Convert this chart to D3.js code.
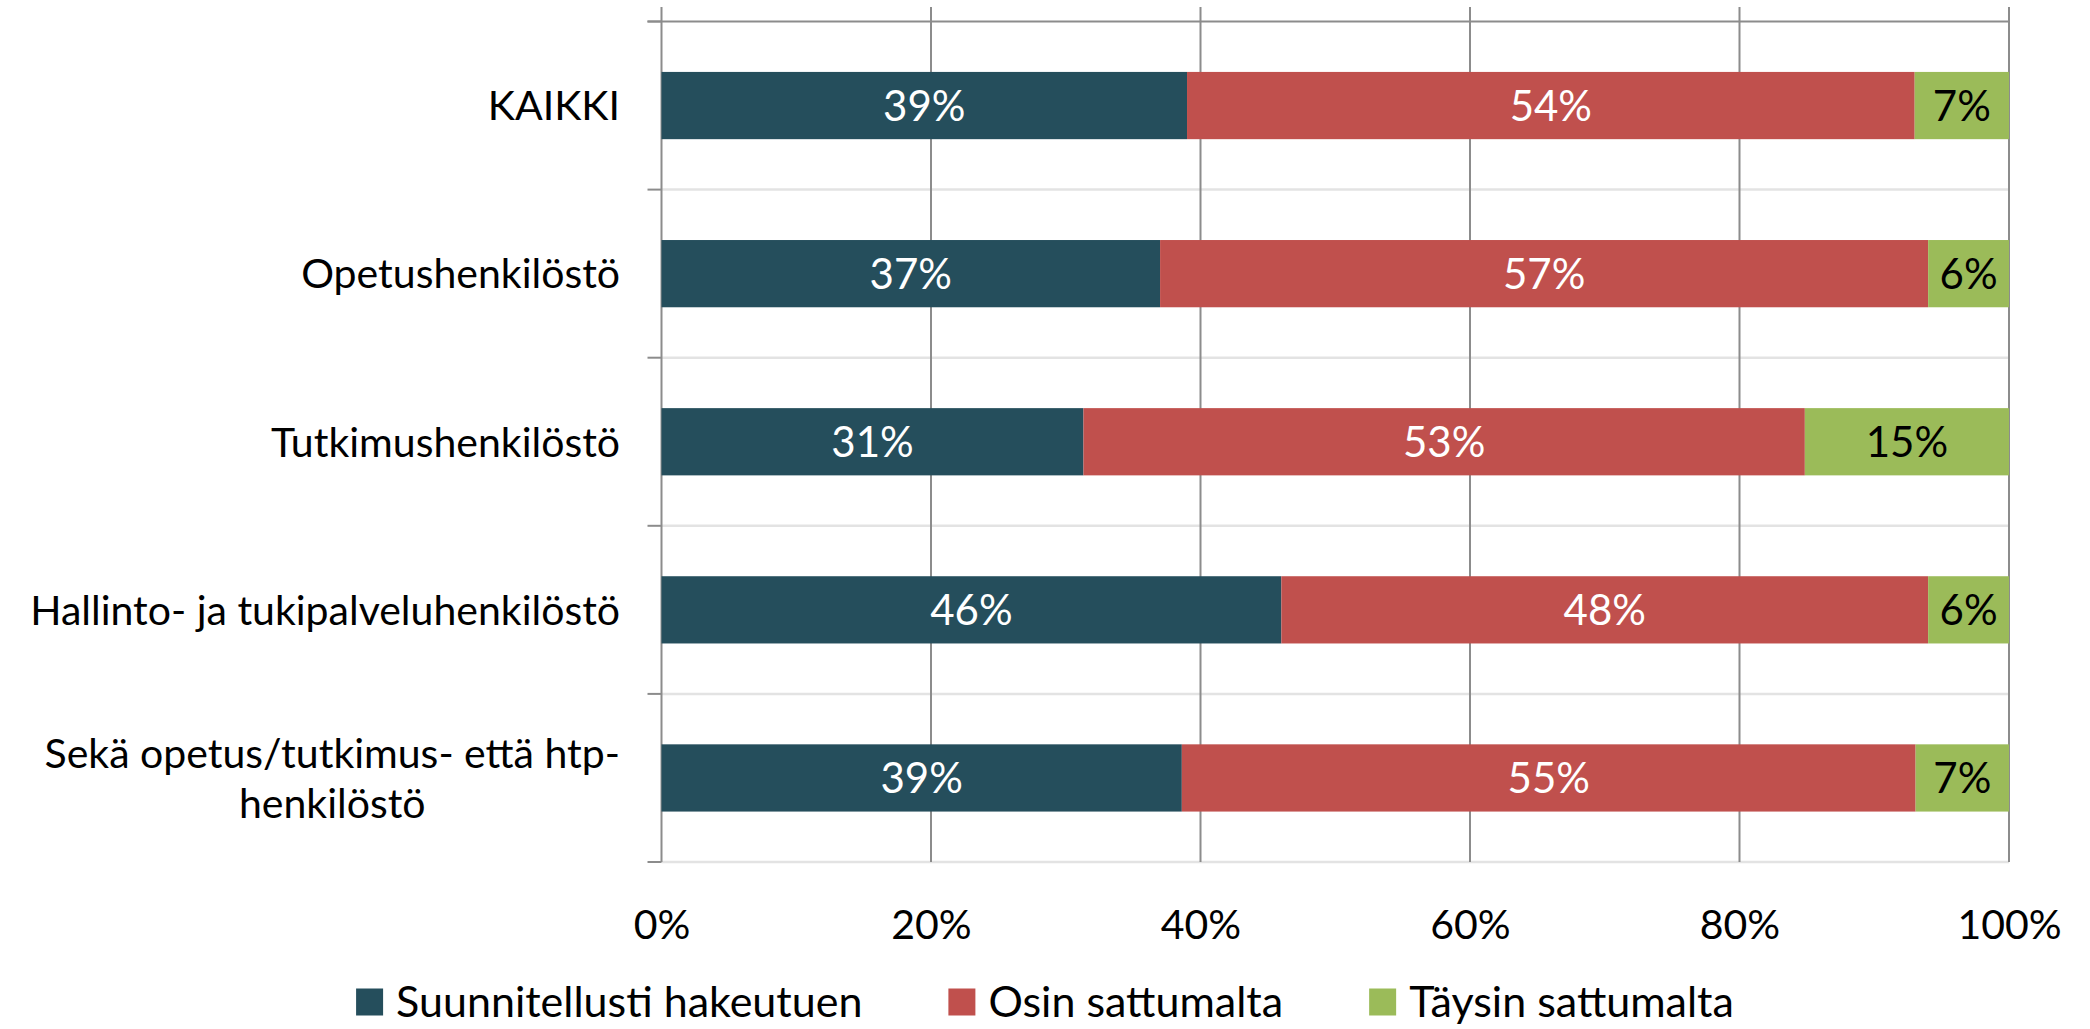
<!DOCTYPE html>
<html>
<head>
<meta charset="utf-8">
<script src="https://cdn.jsdelivr.net/npm/d3@7"></script>
<style>
  html, body { margin: 0; padding: 0; background: #ffffff; }
  svg { display: block; font-family: Lato, "Open Sans", sans-serif; }
</style>
</head>
<body>
<svg id="chart" width="2090" height="1029"></svg>
<script>
// Categories, top to bottom
const categories = [
  "KAIKKI",
  "Opetushenkilöstö",
  "Tutkimushenkilöstö",
  "Hallinto- ja tukipalveluhenkilöstö",
  "Sekä opetus/tutkimus- että htp-henkilöstö"
];

// Series (percent shares per category)
const seriesNames = ["Suunnitellusti hakeutuen", "Osin sattumalta", "Täysin sattumalta"];
const suunnitellusti = [39, 37, 31, 46, 39];
const osin = [54, 57, 53, 48, 55];
const taysin = [7, 6, 15, 6, 7];

const seriesColors = ["#254E5C", "#C0504D", "#9BBB59"];
const labelColors = ["#ffffff", "#ffffff", "#000000"];

const tickValues = [0, 0.2, 0.4, 0.6, 0.8, 1.0];

// Build rows for the stack layout
const rows = categories.map((c, i) => ({
  category: c,
  [seriesNames[0]]: suunnitellusti[i],
  [seriesNames[1]]: osin[i],
  [seriesNames[2]]: taysin[i]
}));

const svg = d3.select("#chart");
const W = 2090, H = 1029;
const plot = { left: 661.5, right: 2009, top: 21.5, bottom: 862 };

const x = d3.scaleLinear().domain([0, 1]).range([plot.left, plot.right]);
const y = d3.scaleBand()
  .domain(categories)
  .range([plot.top, plot.bottom])
  .paddingInner(0.6)
  .paddingOuter(0.3);
const step = y.step();

// 100% stacked layout
const stacked = d3.stack()
  .keys(seriesNames)
  .offset(d3.stackOffsetExpand)(rows);

const gridColor = "#8c8c8c";
const lightColor = "#e3e3e3";

// Horizontal category separators (light) with small dark ticks on the axis
const boundaries = d3.range(categories.length + 1).map(i => plot.top + i * step);
const grid = svg.append("g");
boundaries.forEach((b, i) => {
  if (i > 0) {
    grid.append("line")
      .attr("x1", plot.left).attr("x2", plot.right)
      .attr("y1", b).attr("y2", b)
      .attr("stroke", lightColor).attr("stroke-width", 2.5);
  }
  grid.append("line")
    .attr("x1", plot.left - 14).attr("x2", plot.left)
    .attr("y1", b).attr("y2", b)
    .attr("stroke", gridColor).attr("stroke-width", 2);
});
// Top border line
grid.append("line")
  .attr("x1", plot.left - 14).attr("x2", plot.right)
  .attr("y1", plot.top).attr("y2", plot.top)
  .attr("stroke", gridColor).attr("stroke-width", 2);

// Vertical value gridlines
grid.selectAll("line.v")
  .data(tickValues)
  .join("line")
  .attr("class", "v")
  .attr("x1", d => x(d)).attr("x2", d => x(d))
  .attr("y1", 7).attr("y2", plot.bottom)
  .attr("stroke", gridColor).attr("stroke-width", 2);

// Bars
const layers = svg.append("g").selectAll("g")
  .data(stacked)
  .join("g")
  .attr("fill", (d, i) => seriesColors[i]);

layers.selectAll("rect")
  .data(d => d)
  .join("rect")
  .attr("x", d => x(d[0]))
  .attr("width", d => x(d[1]) - x(d[0]))
  .attr("y", d => y(d.data.category))
  .attr("height", y.bandwidth());

// Value labels centred in each segment
stacked.forEach((layer, si) => {
  svg.append("g").selectAll("text")
    .data(layer)
    .join("text")
    .attr("x", d => (x(d[0]) + x(d[1])) / 2)
    .attr("y", d => y(d.data.category) + y.bandwidth() / 2)
    .attr("dy", "0.36em")
    .attr("text-anchor", "middle")
    .attr("font-size", 42)
    .attr("fill", labelColors[si])
    .text(d => d.data[layer.key] + "%");
});

// Value axis labels
const xAxis = d3.axisBottom(x)
  .tickValues(tickValues)
  .tickFormat(d3.format(".0%"))
  .tickSize(0)
  .tickPadding(0);
const gx = svg.append("g")
  .attr("transform", `translate(0, ${plot.bottom})`)
  .call(xAxis);
gx.select(".domain").remove();
gx.selectAll("text")
  .attr("font-family", "Lato, 'Open Sans', sans-serif")
  .attr("font-size", 41)
  .attr("fill", "#000")
  .attr("y", 62)
  .attr("dy", "0.36em");

// Category labels, wrapped to fit the left margin and right-aligned as a block
const labelRight = 620;
const maxLabelWidth = 610;
const catG = svg.append("g")
  .attr("font-size", 41)
  .attr("fill", "#000");

function measure(str) {
  const t = catG.append("text").text(str);
  const w = t.node().getComputedTextLength();
  t.remove();
  return w;
}

categories.forEach(cat => {
  const tokens = cat.split(/(?<=[- ])/);
  const lines = [];
  let cur = "";
  tokens.forEach(tok => {
    const trial = cur + tok;
    if (cur && measure(trial.trimEnd()) > maxLabelWidth) {
      lines.push(cur.trimEnd());
      cur = tok;
    } else {
      cur = trial;
    }
  });
  if (cur) lines.push(cur.trimEnd());
  const widths = lines.map(measure);
  const blockW = d3.max(widths);
  const cy = y(cat) + y.bandwidth() / 2;
  const lineH = 50;
  const text = catG.append("text")
    .attr("text-anchor", lines.length > 1 ? "middle" : "end");
  lines.forEach((ln, li) => {
    text.append("tspan")
      .attr("x", lines.length > 1 ? labelRight - blockW / 2 : labelRight)
      .attr("y", cy + (li - (lines.length - 1) / 2) * lineH)
      .attr("dy", "0.36em")
      .text(ln);
  });
});

// Legend centred under the chart
const legend = svg.append("g").attr("font-size", 43).attr("fill", "#000");
const sw = 27, textGap = 40, itemGap = 86;
const legendY = 1002;
const items = seriesNames.map((name, i) => {
  const t = legend.append("text").text(name);
  const w = t.node().getComputedTextLength();
  t.remove();
  return { name, w, color: seriesColors[i] };
});
const totalW = d3.sum(items, d => textGap + d.w) + itemGap * (items.length - 1);
let lx = W / 2 - totalW / 2;
items.forEach(it => {
  legend.append("rect")
    .attr("x", lx).attr("y", legendY - sw / 2)
    .attr("width", sw).attr("height", sw)
    .attr("fill", it.color);
  legend.append("text")
    .attr("x", lx + textGap).attr("y", legendY)
    .attr("dy", "0.36em")
    .text(it.name);
  lx += textGap + it.w + itemGap;
});
</script>
</body>
</html>
